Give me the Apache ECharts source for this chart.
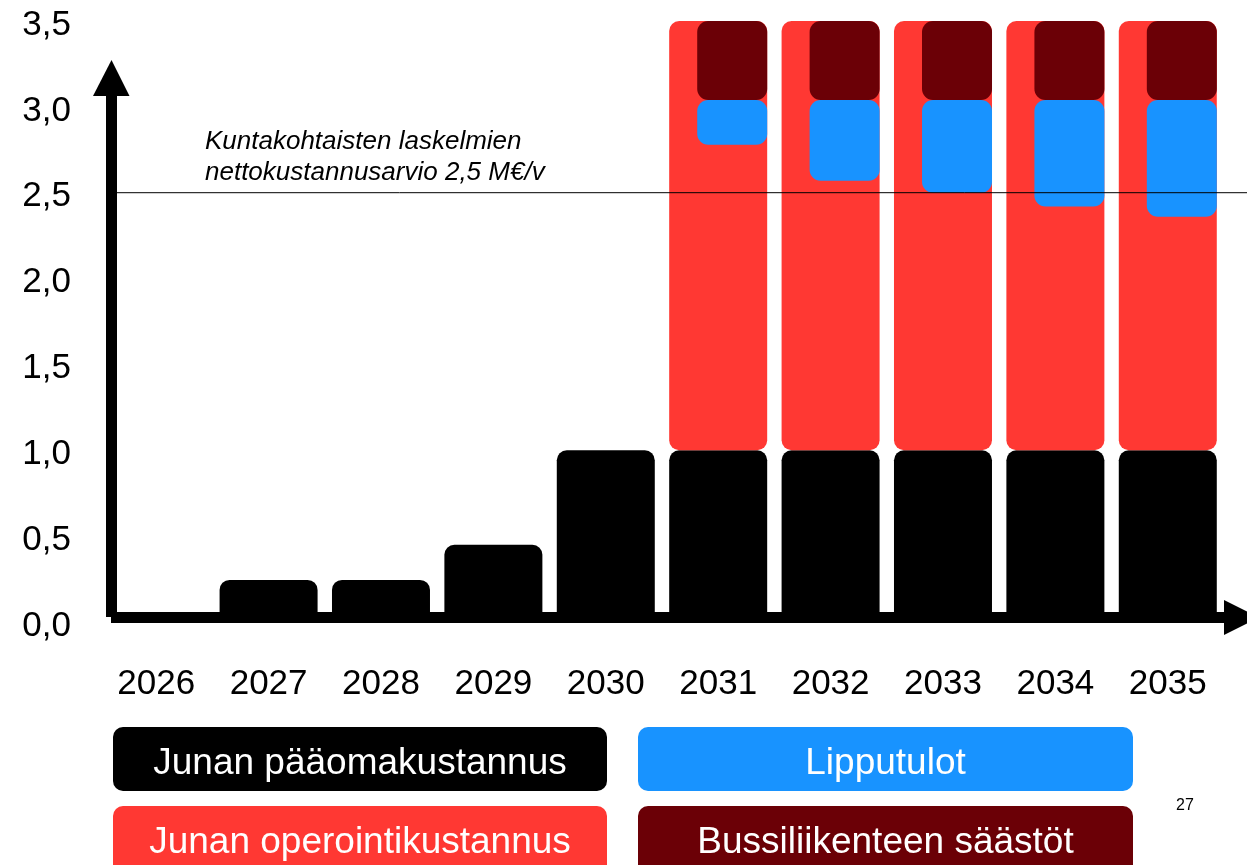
<!DOCTYPE html>
<html>
<head>
<meta charset="utf-8">
<script src="https://cdn.jsdelivr.net/npm/echarts@6/dist/echarts.min.js"></script>
<style>
html,body{margin:0;padding:0;background:#fff;}
#chart{width:1247px;height:865px;}
</style>
</head>
<body>
<div id="chart"></div>
<script>
// ---- data ----
const years = ['2026','2027','2028','2029','2030','2031','2032','2033','2034','2035'];
const seriesNames = ['Junan pääomakustannus','Junan operointikustannus','Lipputulot','Bussiliikenteen säästöt'];
const capitalCost   = [0, 0.245, 0.245, 0.45, 1.0, 1.0, 1.0, 1.0, 1.0, 1.0];
const operatingCost = [null, null, null, null, null, 2.5, 2.5, 2.5, 2.5, 2.5];
const ticketRevenue = [null, null, null, null, null, 0.26, 0.47, 0.54, 0.62, 0.68];
const busSavings    = [null, null, null, null, null, 0.46, 0.46, 0.46, 0.46, 0.46];
const yTickLabels = ['0,0','0,5','1,0','1,5','2,0','2,5','3,0','3,5'];
const targetValue = 2.5;
const annotationLines = ['Kuntakohtaisten laskelmien', 'nettokustannusarvio 2,5 M€/v'];
const pageNumber = '27';

const colors = ['#000000', '#FF3833', '#1893FF', '#6B0006'];
const FONT = '"Liberation Sans", Arial, sans-serif';

// net cost = total cost - savings - revenue (base of the overlay stack)
const netBase = years.map((_, i) => operatingCost[i] == null ? null :
  +(capitalCost[i] + operatingCost[i] - busSavings[i] - ticketRevenue[i]).toFixed(3));

const chart = echarts.init(document.getElementById('chart'), null, {renderer: 'canvas'});
const gap = '-71.4%';
const option = {
  animation: false,
  backgroundColor: '#fff',
  grid: {left: 100, right: 23, top: 21, bottom: 243, outerBoundsMode: 'none'},
  xAxis: {
    type: 'category',
    data: years,
    axisLine: {show: false},
    axisTick: {show: false},
    axisLabel: {fontSize: 35, color: '#000', fontFamily: FONT, margin: 45, interval: 0}
  },
  yAxis: {
    type: 'value',
    min: 0, max: 3.5, interval: 0.5,
    axisLine: {show: false},
    axisTick: {show: false},
    splitLine: {show: false},
    axisLabel: {
      fontSize: 35, color: '#000', fontFamily: FONT, margin: 29,
      verticalAlign: 'top', lineHeight: 8,
      formatter: v => yTickLabels[Math.round(v / 0.5)]
    }
  },
  series: [
    {name: seriesNames[0], type: 'bar', stack: 'cost', data: capitalCost, barWidth: 98, barGap: gap,
     itemStyle: {color: colors[0], borderRadius: 10}},
    {name: seriesNames[1], type: 'bar', stack: 'cost', data: operatingCost, barGap: gap,
     itemStyle: {color: colors[1], borderRadius: 10}},
    {name: 'net', type: 'bar', stack: 'offset', data: netBase, barWidth: 70, barGap: gap, silent: true,
     itemStyle: {color: 'rgba(0,0,0,0)'}},
    {name: seriesNames[2], type: 'bar', stack: 'offset', data: ticketRevenue, barGap: gap,
     itemStyle: {color: colors[2], borderRadius: 11}},
    {name: seriesNames[3], type: 'bar', stack: 'offset', data: busSavings, barGap: gap,
     itemStyle: {color: colors[3], borderRadius: 11}}
  ]
};
chart.setOption(option);

const zeroY = chart.convertToPixel({yAxisIndex: 0}, 0);
const refY = chart.convertToPixel({yAxisIndex: 0}, targetValue);

const legendBoxes = [
  {x: 113, y: 727, w: 494, h: 64, ci: 0},
  {x: 638, y: 727, w: 495, h: 64, ci: 2},
  {x: 113, y: 806, w: 494, h: 72, ci: 1},
  {x: 638, y: 806, w: 495, h: 72, ci: 3}
];
const graphics = [];
// axes with arrows
graphics.push({type: 'rect', z: 100, shape: {x: 106, y: 95, width: 11, height: zeroY - 5 - 95}, style: {fill: '#000'}});
graphics.push({type: 'polygon', z: 100, shape: {points: [[93, 96], [129.5, 96], [111.5, 60]]}, style: {fill: '#000'}});
graphics.push({type: 'rect', z: 100, shape: {x: 111, y: zeroY - 10, width: 1115, height: 11}, style: {fill: '#000'}});
graphics.push({type: 'polygon', z: 100, shape: {points: [[1224, zeroY - 22], [1224, zeroY + 13], [1259, zeroY - 4.5]]}, style: {fill: '#000'}});
// reference line
graphics.push({type: 'line', z: 100, shape: {x1: 117, y1: refY, x2: 1247, y2: refY}, style: {stroke: '#000', lineWidth: 1}});
// annotation
annotationLines.forEach((t, i) => graphics.push({
  type: 'text', z: 100, x: 205, y: 142 + i * 31,
  style: {text: t, fill: '#000', font: 'italic 26px ' + FONT, textAlign: 'left', textVerticalAlign: 'middle'}
}));
// legend boxes
legendBoxes.forEach((b, i) => {
  graphics.push({type: 'rect', z: 100, shape: {x: b.x, y: b.y, width: b.w, height: b.h, r: 10}, style: {fill: colors[b.ci]}});
  graphics.push({type: 'text', z: 101, x: b.x + b.w / 2, y: b.y + 37,
    style: {text: seriesNames[b.ci], fill: '#fff', font: '37px ' + FONT, textAlign: 'center', textVerticalAlign: 'middle'}});
});
graphics.push({type: 'text', z: 100, x: 1185, y: 806,
  style: {text: pageNumber, fill: '#000', font: '16px ' + FONT, textAlign: 'center', textVerticalAlign: 'middle'}});

chart.setOption({graphic: graphics});
</script>
</body>
</html>
